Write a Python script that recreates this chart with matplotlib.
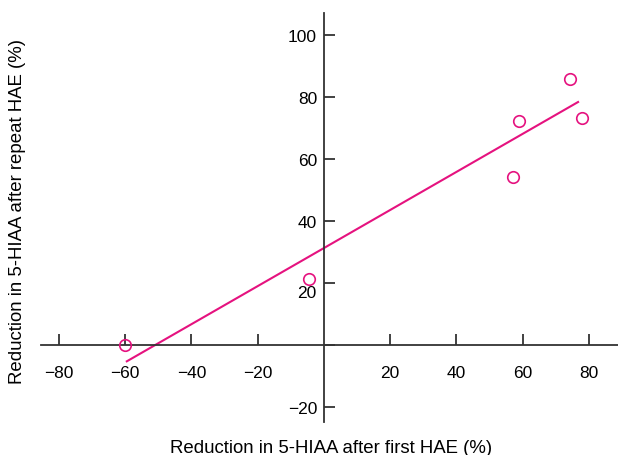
import numpy as np
import matplotlib
matplotlib.use('Agg')
import matplotlib.pyplot as plt

# data
first_hae = [-60, -4.5, 57, 59, 74.3, 78]        # % reduction after first HAE
repeat_hae = [0, 21.3, 54.2, 72.3, 85.8, 73.2]   # % reduction after repeat HAE
fit_slope = 0.614
fit_intercept = 31.3
fit_x = [-59.5, 76.7]

x_ticks = [-80, -60, -40, -20, 20, 40, 60, 80]
y_ticks = [-20, 0, 20, 40, 60, 80, 100]
y_tick_labels = ['\u221220', '', '', '40', '60', '80', '100']

PINK = '#e5127f'
AXIS = '#333333'

plt.rcParams['font.family'] = ['Liberation Sans', 'DejaVu Sans']

fig = plt.figure(figsize=(6.18, 4.56), dpi=100)
ax = fig.add_axes([41 / 618, 33 / 456, 577 / 618, 409 / 456])
ax.set_xlim(-85.4, 88.75)
ax.set_ylim(-24.8, 107.1)

for s in ('top', 'right'):
    ax.spines[s].set_visible(False)
for s in ('left', 'bottom'):
    ax.spines[s].set_position(('data', 0))
    ax.spines[s].set_color(AXIS)
    ax.spines[s].set_linewidth(1.3)

ax.set_xticks(x_ticks)
ax.set_xticklabels([f'{v}'.replace('-', '\u2212') for v in x_ticks])
ax.set_yticks(y_ticks)
ax.set_yticklabels(y_tick_labels)
ax.tick_params(axis='x', direction='in', length=8, width=1.3, color=AXIS,
               pad=14, labelsize=12.5)
ax.tick_params(axis='y', direction='in', length=8, width=1.3, color=AXIS,
               pad=5, labelsize=12.5)

# the "20" label sits a little lower than its tick in the original
ax.annotate('20', xy=(0, 20), xytext=(-5.5, -6.5), textcoords='offset points',
            ha='right', va='center', fontsize=12.5)

fx = np.array(fit_x)
ax.plot(fx, fit_slope * fx + fit_intercept, color=PINK, lw=1.5, clip_on=False)
ax.plot(first_hae, repeat_hae, 'o', ms=8.3, mfc='none', mec=PINK, mew=1.2,
        clip_on=False, zorder=5)

fig.text(331 / 618, 1 - 449 / 456, 'Reduction in 5-HIAA after first HAE (%)',
         ha='center', va='center', fontsize=13.4)
fig.text(18 / 618, 1 - 211 / 456, 'Reduction in 5-HIAA after repeat HAE (%)',
         ha='center', va='center', rotation=90, fontsize=13.4)

fig.savefig('out.png', dpi=100)
